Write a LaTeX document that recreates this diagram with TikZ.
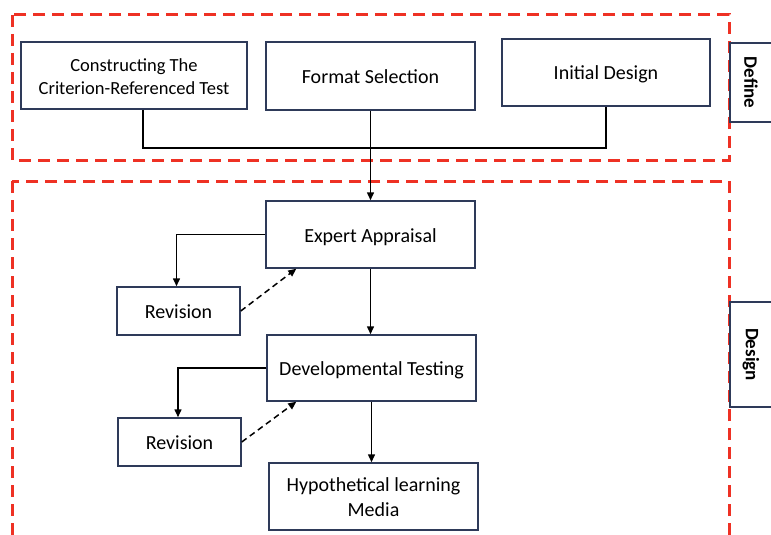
\documentclass[tikz,border=0pt]{standalone}
\usepackage{fontspec}
\setmainfont{Carlito}
\usetikzlibrary{arrows.meta,calc}
\definecolor{boxline}{HTML}{2E3A59}
\definecolor{redline}{HTML}{EE3124}
\newcommand{\boxtext}[1]{\raisebox{-2.5pt}[\height][\depth]{\begin{tabular}{@{}c@{}}#1\end{tabular}}}
\tikzset{
  box/.style={draw=boxline, line width=1.5pt, fill=white, inner sep=0pt, align=center,
    font=\fontsize{20}{25}\selectfont},
  sidebox/.style={draw=boxline, line width=1.5pt, fill=white, inner sep=0pt, rotate=-90,
    font=\fontsize{19}{23}\selectfont\bfseries},
  frame/.style={draw=redline, line width=3pt, dash pattern=on 12pt off 7pt},
  conn/.style={draw=black, line width=1.5pt},
  arr/.style={conn, -{Triangle[length=8pt,width=7pt]}},
  darr/.style={arr, dash pattern=on 6pt off 4pt},
}
\begin{document}
\begin{tikzpicture}[x=1pt,y=-1pt]
\clip (0,0) rectangle (771,535);
\fill[white] (0,0) rectangle (771,535);
% frames
\draw[frame] (12,15) rectangle (729,160);
\draw[frame] (12,181) rectangle (729,560);
% side labels
\node[sidebox, minimum width=79pt, minimum height=42pt] (define) at (751,82.5) {Define};
\node[sidebox, minimum width=105pt, minimum height=42pt] (design) at (751,354.5) {Design};
% define nodes
\node[box, minimum width=226pt, minimum height=67pt, font=\fontsize{18.5}{23}\selectfont] (cons) at (134,75.5) {\boxtext{Constructing The\\Criterion-Referenced Test}};
\node[box, minimum width=209pt, minimum height=68pt] (fmt) at (370.5,76) {\boxtext{Format Selection}};
\node[box, minimum width=208pt, minimum height=67pt] (init) at (606,72.5) {\boxtext{Initial Design}};
% design nodes
\node[box, minimum width=209pt, minimum height=67pt] (exp) at (370.5,234.5) {\boxtext{Expert Appraisal}};
\node[box, minimum width=123pt, minimum height=48pt] (rev1) at (178.5,311) {\boxtext{Revision}};
\node[box, minimum width=209pt, minimum height=66pt] (dev) at (371.5,368) {\boxtext{Developmental Testing}};
\node[box, minimum width=123pt, minimum height=48pt] (rev2) at (179.5,442) {\boxtext{Revision}};
\node[box, minimum width=209pt, minimum height=67pt] (hyp) at (373.5,496.5) {\boxtext{Hypothetical learning\\Media}};
% connectors
\coordinate (j) at (370.5,148);
\draw[conn] ($(cons.south)+(9,0)$) |- (j) -| (init.south);
\draw[arr] (fmt.south) -- (exp.north);
\draw[arr] (exp.west) -| ($(rev1.north)+(-2,0)$);
\draw[darr] (rev1.east) -- ($(exp.south west)+(31,0)$);
\draw[arr] (exp.south) -- (exp.south |- dev.north);
\draw[arr] (dev.west) -| ($(rev2.north)+(-1.5,0)$);
\draw[darr] (rev2.east) -- ($(dev.south west)+(30,0)$);
\draw[arr] (dev.south) -- (dev.south |- hyp.north);
\end{tikzpicture}
\end{document}
